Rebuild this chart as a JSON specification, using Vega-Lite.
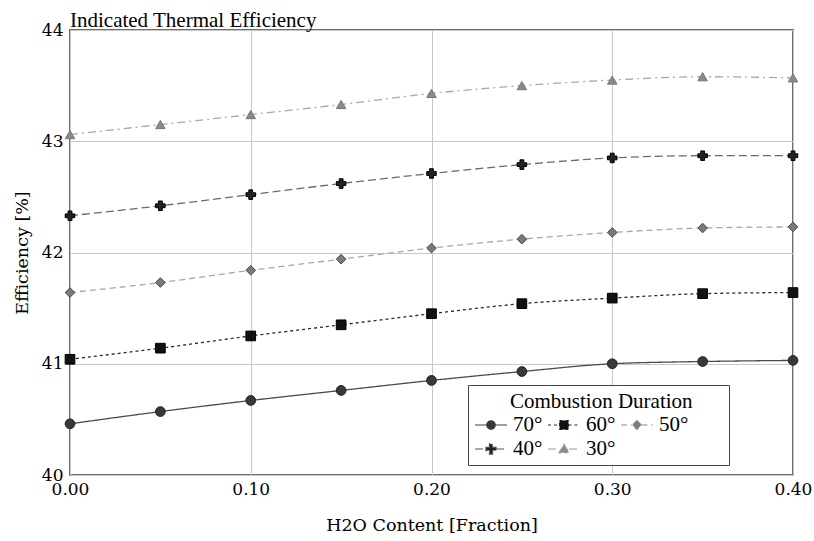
{
  "$schema": "https://vega.github.io/schema/vega-lite/v6.json",
  "width": 723,
  "height": 445,
  "autosize": {"type": "none"},
  "padding": {"left": 70, "top": 30, "right": 21, "bottom": 66},
  "background": "white",
  "title": {
    "text": "Indicated Thermal Efficiency",
    "anchor": "start",
    "frame": "group",
    "font": "serif",
    "fontSize": 21,
    "fontWeight": "normal",
    "color": "#000000",
    "baseline": "alphabetic",
    "offset": 0,
    "dy": 27
  },
  "config": {
    "font": "serif",
    "view": {"stroke": "#6e6e6e", "strokeWidth": 2},
    "axis": {
      "labelFont": "DejaVu Serif",
      "titleFont": "DejaVu Serif",
      "labelFontSize": 17,
      "titleFontSize": 17.5,
      "labelColor": "#000000",
      "titleColor": "#000000",
      "titleFontWeight": "normal",
      "domain": false,
      "ticks": false,
      "gridColor": "#c8c8c8",
      "gridWidth": 1
    }
  },
  "data": {
    "values": [
      {"h2o": 0.00, "eff": 40.46, "duration": "70°"},
      {"h2o": 0.05, "eff": 40.57, "duration": "70°"},
      {"h2o": 0.10, "eff": 40.67, "duration": "70°"},
      {"h2o": 0.15, "eff": 40.76, "duration": "70°"},
      {"h2o": 0.20, "eff": 40.85, "duration": "70°"},
      {"h2o": 0.25, "eff": 40.93, "duration": "70°"},
      {"h2o": 0.30, "eff": 41.00, "duration": "70°"},
      {"h2o": 0.35, "eff": 41.02, "duration": "70°"},
      {"h2o": 0.40, "eff": 41.03, "duration": "70°"},
      {"h2o": 0.00, "eff": 41.04, "duration": "60°"},
      {"h2o": 0.05, "eff": 41.14, "duration": "60°"},
      {"h2o": 0.10, "eff": 41.25, "duration": "60°"},
      {"h2o": 0.15, "eff": 41.35, "duration": "60°"},
      {"h2o": 0.20, "eff": 41.45, "duration": "60°"},
      {"h2o": 0.25, "eff": 41.54, "duration": "60°"},
      {"h2o": 0.30, "eff": 41.59, "duration": "60°"},
      {"h2o": 0.35, "eff": 41.63, "duration": "60°"},
      {"h2o": 0.40, "eff": 41.64, "duration": "60°"},
      {"h2o": 0.00, "eff": 41.64, "duration": "50°"},
      {"h2o": 0.05, "eff": 41.73, "duration": "50°"},
      {"h2o": 0.10, "eff": 41.84, "duration": "50°"},
      {"h2o": 0.15, "eff": 41.94, "duration": "50°"},
      {"h2o": 0.20, "eff": 42.04, "duration": "50°"},
      {"h2o": 0.25, "eff": 42.12, "duration": "50°"},
      {"h2o": 0.30, "eff": 42.18, "duration": "50°"},
      {"h2o": 0.35, "eff": 42.22, "duration": "50°"},
      {"h2o": 0.40, "eff": 42.23, "duration": "50°"},
      {"h2o": 0.00, "eff": 42.33, "duration": "40°"},
      {"h2o": 0.05, "eff": 42.42, "duration": "40°"},
      {"h2o": 0.10, "eff": 42.52, "duration": "40°"},
      {"h2o": 0.15, "eff": 42.62, "duration": "40°"},
      {"h2o": 0.20, "eff": 42.71, "duration": "40°"},
      {"h2o": 0.25, "eff": 42.79, "duration": "40°"},
      {"h2o": 0.30, "eff": 42.85, "duration": "40°"},
      {"h2o": 0.35, "eff": 42.87, "duration": "40°"},
      {"h2o": 0.40, "eff": 42.87, "duration": "40°"},
      {"h2o": 0.00, "eff": 43.06, "duration": "30°"},
      {"h2o": 0.05, "eff": 43.15, "duration": "30°"},
      {"h2o": 0.10, "eff": 43.24, "duration": "30°"},
      {"h2o": 0.15, "eff": 43.33, "duration": "30°"},
      {"h2o": 0.20, "eff": 43.43, "duration": "30°"},
      {"h2o": 0.25, "eff": 43.50, "duration": "30°"},
      {"h2o": 0.30, "eff": 43.55, "duration": "30°"},
      {"h2o": 0.35, "eff": 43.58, "duration": "30°"},
      {"h2o": 0.40, "eff": 43.57, "duration": "30°"}
    ]
  },
  "encoding": {
    "x": {
      "field": "h2o",
      "type": "quantitative",
      "title": "H2O Content [Fraction]",
      "scale": {"domain": [0, 0.4], "nice": false, "zero": false},
      "axis": {"values": [0, 0.1, 0.2, 0.3, 0.4], "format": ".2f", "labelFont": "DejaVu Serif", "titleFont": "DejaVu Serif", "labelFontSize": 17, "titleFontSize": 17.5, "labelPadding": 6, "titlePadding": 19, "labelFlush": false}
    },
    "y": {
      "field": "eff",
      "type": "quantitative",
      "title": "Efficiency [%]",
      "scale": {"domain": [40, 44], "nice": false, "zero": false},
      "axis": {"values": [40, 41, 42, 43, 44], "format": "d", "labelFont": "DejaVu Serif", "titleFont": "DejaVu Serif", "labelFontSize": 17, "titleFontSize": 17.5, "labelPadding": 7, "titlePadding": 10, "labelFlush": false}
    }
  },
  "layer": [
    {
      "mark": {"type": "line", "interpolate": "monotone", "strokeWidth": 1.3},
      "encoding": {
        "detail": {"field": "duration"},
        "stroke": {
          "field": "duration",
          "type": "nominal",
          "scale": {"domain": ["30°", "40°", "50°", "60°", "70°"], "range": ["#a8a8a8", "#6a6a6a", "#a8a8a8", "#2a2a2a", "#4a4a4a"]},
          "legend": null
        },
        "strokeDash": {
          "field": "duration",
          "type": "nominal",
          "title": "Combustion Duration",
          "scale": {"domain": ["70°", "60°", "50°", "40°", "30°"], "range": [[1, 0], [3, 3], [6, 4], [8, 4], [8, 4, 2, 4]]},
          "legend": {
            "orient": "none",
            "legendX": 398,
            "legendY": 355,
            "direction": "horizontal",
            "columns": 3,
            "gridAlign": "none",
            "title": "Combustion Duration\u2800\u2800",
            "titleLimit": 500,
            "titleFont": "serif",
            "titleFontSize": 21,
            "titleFontWeight": "normal",
            "titleColor": "#000000",
            "titleAnchor": "start",
            "titlePadding": 0,
            "labelFont": "serif",
            "labelFontSize": 21,
            "labelColor": "#000000",
            "symbolType": "M-1.33,0H1.33",
            "symbolSize": 576,
            "symbolOffset": 4,
            "labelOffset": 9,
            "columnPadding": 2,
            "rowPadding": 1,
            "padding": 6,
            "fillColor": "#ffffff",
            "strokeColor": "#444444",
            "cornerRadius": 0,
            "symbolStrokeWidth": 1.2,
            "encoding": {
              "title": {
                "dx": {"value": 36}
              },
              "symbols": {
                "shape": {"value": {"expr": "{'70°': 'M-1.33,0H-0.35M0.35,0H1.33M0.35,0A0.35,0.35,0,1,1,-0.35,0A0.35,0.35,0,1,1,0.35,0Z', '60°': 'M-1.33,0H-0.37M0.37,0H1.33M-0.37,-0.37H0.37V0.37H-0.37Z', '50°': 'M-1.33,0H-0.37M0.37,0H1.33M0,-0.37L0.37,0L0,0.37L-0.37,0Z', '40°': 'M-1.33,0H-0.42M0.42,0H1.33M-0.42,-0.13H-0.13V-0.42H0.13V-0.13H0.42V0.13H0.13V0.42H-0.13V0.13H-0.42Z', '30°': 'M-1.33,0H-0.42M0.42,0H1.33M0,-0.4L0.42,0.32H-0.42Z'}[datum.value]"}},
                "fill": {"value": {"expr": "{'70°': '#383838', '60°': '#111111', '50°': '#7a7a7a', '40°': '#222222', '30°': '#8a8a8a'}[datum.value]"}},
                "stroke": {"value": {"expr": "{'70°': '#3a3a3a', '60°': '#222222', '50°': '#8a8a8a', '40°': '#555555', '30°': '#9a9a9a'}[datum.value]"}},
                "opacity": {"value": 1}
              }
            }
          }
        }
      }
    },
    {
      "mark": {"type": "point", "filled": true, "opacity": 1, "strokeWidth": 1},
      "encoding": {
        "shape": {
          "field": "duration",
          "type": "nominal",
          "scale": {"domain": ["30°", "40°", "50°", "60°", "70°"], "range": ["triangle-up", "cross", "diamond", "square", "circle"]},
          "legend": null
        },
        "fill": {
          "field": "duration",
          "type": "nominal",
          "scale": {"domain": ["30°", "40°", "50°", "60°", "70°"], "range": ["#8a8a8a", "#222222", "#7a7a7a", "#111111", "#383838"]},
          "legend": null
        },
        "stroke": {
          "field": "duration",
          "type": "nominal",
          "scale": {"domain": ["30°", "40°", "50°", "60°", "70°"], "range": ["#777777", "#000000", "#444444", "#000000", "#222222"]},
          "legend": null
        },
        "size": {
          "field": "duration",
          "type": "nominal",
          "scale": {"domain": ["30°", "40°", "50°", "60°", "70°"], "range": [90, 95, 60, 95, 80]},
          "legend": null
        }
      }
    }
  ],
  "resolve": {"scale": {"stroke": "independent"}}
}
